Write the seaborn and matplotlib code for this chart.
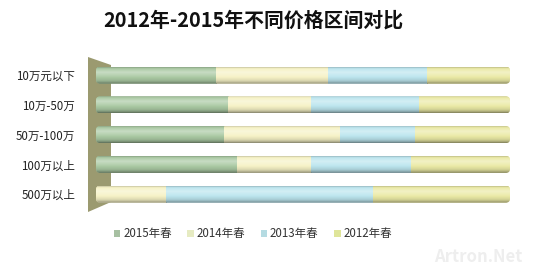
import numpy as np
import pandas as pd
import matplotlib
matplotlib.use("Agg")
import matplotlib.pyplot as plt
import matplotlib.colors as mcolors
from matplotlib.patches import Polygon, Patch, FancyBboxPatch
import seaborn as sns

categories = ["10万元以下", "10万-50万", "50万-100万", "100万以上", "500万以上"]
series = ["2015年春", "2014年春", "2013年春", "2012年春"]
v2015 = [29, 32, 31, 34, 0]
v2014 = [27, 20, 28, 18, 17]
v2013 = [24, 26, 18, 24, 50]
v2012 = [20, 22, 23, 24, 33]
values = [v2015, v2014, v2013, v2012]

colors = ["#abcaa4", "#f6f2c6", "#bce5ee", "#ebeaa6"]
legend_colors = ["#a7c0a2", "#e6ebc2", "#b5dbe2", "#dfe59a"]

sns.set_theme(style="white")
plt.rcParams["font.family"] = ["Noto Sans CJK SC", "DejaVu Sans"]

fig = plt.figure(figsize=(5.5, 2.75), dpi=100)
fig.patch.set_facecolor("white")

# 3D side wall (behind bars)
W, H = 550.0, 275.0
wall = Polygon([(88 / W, 1 - 57 / H), (111 / W, 1 - 65 / H),
                (111 / W, 1 - 202 / H), (88 / W, 1 - 212 / H)],
               closed=True, transform=fig.transFigure,
               facecolor="#9b9a70", edgecolor="none", zorder=-5)
fig.patches.append(wall)

ax = fig.add_axes([96 / W, 1 - 209 / H, (510 - 96) / W, 148.75 / H])
ax.set_facecolor("none")
ax.set_zorder(2)

bar_w = 0.57
df = pd.DataFrame({"cat": categories})
left = np.zeros(len(categories))
for s, vals, c in zip(series, values, colors):
    df[s] = vals
    sns.barplot(data=df, y="cat", x=s, orient="h", color=c, left=left,
                width=bar_w, ax=ax, saturation=1, edgecolor="none",
                linewidth=0)
    left = left + np.array(vals)

ax.set_xlim(0, 100)
ax.set_ylim(4.5, -0.5)

# rounded row outlines used as clip shapes (cylinder ends)
row_clips = []
for i in range(len(categories)):
    rc = FancyBboxPatch((0, i - bar_w / 2), left[i], bar_w,
                        boxstyle="round,pad=0,rounding_size=1.0",
                        mutation_aspect=0.14, transform=ax.transData)
    row_clips.append(rc)

# cylinder shading overlay
prof_t = np.array([0.0, 0.08, 0.3, 0.55, 0.8, 0.92, 1.0])
prof_f = np.array([0.82, 1.0, 1.1, 1.02, 0.9, 0.74, 0.55])
tt = np.linspace(0, 1, 40)
ff = np.interp(tt, prof_t, prof_f)


def shade(rgb, f):
    rgb = np.array(rgb)
    if f > 1:
        a = min(1, (f - 1) * 3.5)
        return rgb * (1 - a) + a
    return rgb * f


for p in list(ax.patches):
    x0, y0 = p.get_x(), p.get_y()
    w, h = p.get_width(), p.get_height()
    row = int(round(y0 + h / 2))
    p.set_clip_path(row_clips[row])
    if w <= 0:
        continue
    base = mcolors.to_rgb(p.get_facecolor())
    img = np.array([shade(base, f) for f in ff]).reshape(-1, 1, 3)
    im = ax.imshow(img, extent=(x0, x0 + w, y0 + h, y0), origin="upper",
                   aspect="auto", interpolation="bilinear", zorder=3)
    im.set_clip_path(row_clips[row])

ax.set_xlim(0, 100)
ax.set_ylim(4.5, -0.5)
ax.set_xlabel("")
ax.set_ylabel("")
ax.set_xticks([])
ax.tick_params(axis="y", length=0, pad=15, labelsize=8.3, labelcolor="#222222")
for sp in ax.spines.values():
    sp.set_visible(False)

fig.text(253 / W, 1 - 20 / H, "2012年-2015年不同价格区间对比", ha="center",
         va="center", fontsize=14.3, fontweight="bold", color="#111111")

handles = [Patch(facecolor=c, edgecolor="none") for c in legend_colors]
fig.legend(handles, series, loc="center", bbox_to_anchor=(253 / W, 1 - 234 / H),
           ncol=4, frameon=False, fontsize=8.3, handlelength=0.55, handleheight=0.55,
           handletextpad=0.25, columnspacing=1.35, labelcolor="#333333")

fig.text(478 / W, 1 - 257 / H, "Artron.Net", ha="center", va="center",
         fontsize=12, fontweight="bold", color="#eeeeee")

fig.savefig("out.png", dpi=100, facecolor="white")
